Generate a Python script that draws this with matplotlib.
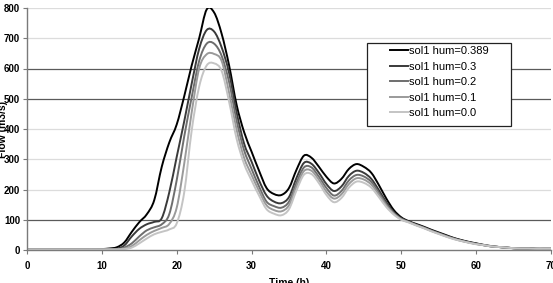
import matplotlib
matplotlib.use("Agg")
import matplotlib.pyplot as plt
import numpy as np
from matplotlib.patches import Rectangle, PathPatch
from matplotlib.path import Path
from matplotlib.lines import Line2D

plt.rcParams['font.family'] = ['Liberation Sans', 'DejaVu Sans']

# time in hours
hours = list(range(0, 71))

# flow (m3/s)
hum_0389 = [2]*10 + [3, 5, 9, 25, 60, 92, 118, 165, 275, 355,
                     415, 508, 610, 700, 795, 785, 715, 610, 480, 390,
                     325, 262, 205, 185, 182, 205, 265, 312, 305, 275,
                     242, 220, 235, 268, 284, 275, 255, 215, 170, 132,
                     108, 95, 86, 77, 67, 58, 49, 40, 33, 27,
                     22, 17, 13, 10, 8, 6, 5, 5, 4, 4, 4]
hum_03 = [2]*12 + [4, 15, 45, 70, 85, 93, 105, 190,
                   308, 425, 550, 665, 727, 722, 670, 585, 455, 352,
                   292, 230, 180, 160, 155, 175, 238, 288, 285, 255,
                   218, 195, 210, 245, 262, 255, 235, 198, 158, 125,
                   105, 94, 84, 75, 65, 56, 47, 39, 32, 26,
                   21, 16, 12, 10, 8, 6, 5, 5, 4, 4, 4]
hum_02 = [2]*13 + [8, 22, 45, 65, 75, 85, 118,
                   231, 375, 505, 625, 682, 682, 642, 555, 428, 330,
                   268, 210, 160, 145, 140, 160, 222, 273, 273, 242,
                   205, 180, 195, 230, 248, 243, 225, 190, 152, 122,
                   103, 93, 83, 74, 64, 55, 46, 38, 31, 25,
                   20, 16, 12, 10, 8, 6, 5, 5, 4, 4, 4]
hum_01 = [2]*13 + [5, 13, 32, 50, 63, 73, 86,
                   140, 285, 455, 600, 647, 648, 625, 520, 398, 305,
                   248, 195, 148, 132, 128, 148, 210, 261, 262, 232,
                   193, 170, 184, 218, 237, 233, 216, 183, 147, 120,
                   101, 92, 82, 73, 63, 54, 45, 37, 30, 25,
                   20, 16, 12, 10, 8, 6, 5, 5, 4, 4, 4]
hum_00 = [2]*13 + [3, 8, 22, 38, 52, 60, 68,
                   88, 190, 395, 540, 610, 617, 592, 490, 368, 285,
                   230, 180, 135, 120, 115, 135, 197, 249, 251, 221,
                   182, 158, 172, 206, 226, 222, 206, 175, 142, 117,
                   100, 91, 81, 72, 62, 53, 44, 36, 30, 24,
                   19, 16, 12, 10, 8, 6, 5, 5, 4, 4, 4]

labels = ["sol1 hum=0.389", "sol1 hum=0.3", "sol1 hum=0.2", "sol1 hum=0.1", "sol1 hum=0.0"]
series = [hum_0389, hum_03, hum_02, hum_01, hum_00]
colors = ["#000000", "#3a3a3a", "#6e6e6e", "#9a9a9a", "#c4c4c4"]


def smooth_path(x, y):
    # Excel-style smoothed line: bezier segments through the data points
    x = np.asarray(x, float)
    y = np.asarray(y, float)
    pts = np.column_stack([x, y])
    padded = np.vstack([pts[0], pts, pts[-1]])
    verts = [pts[0]]
    codes = [Path.MOVETO]
    for i in range(len(pts) - 1):
        p0, p1, p2, p3 = padded[i], padded[i+1], padded[i+2], padded[i+3]
        verts += [p1 + (p2 - p0) / 6, p2 - (p3 - p1) / 6, p2]
        codes += [Path.CURVE4] * 3
    return Path(verts, codes)


fig = plt.figure(figsize=(5.53, 2.83), dpi=100)
ax = fig.add_axes([27/553, 1-250/283, 524/553, 242/283])

# gridlines: some darker, as in the original
for y in range(100, 900, 100):
    if y in (100, 500, 600):
        ax.axhline(y, color="#5a5a5a", lw=0.9, zorder=1)
    else:
        ax.axhline(y, color="#dcdcdc", lw=0.9, zorder=1)

handles = []
for vals, lab, c in zip(series, labels, colors):
    ax.add_patch(PathPatch(smooth_path(hours, vals), facecolor="none",
                           edgecolor=c, lw=1.4, zorder=2))
    handles.append(Line2D([], [], color=c, lw=1.4, label=lab))

ax.set_xlim(0, 70)
ax.set_ylim(0, 800)
ax.set_xticks(range(0, 80, 10))
ax.set_yticks(range(0, 900, 100))
for s in ("top", "right"):
    ax.spines[s].set_visible(False)
for s in ("left", "bottom"):
    ax.spines[s].set_color("#7a7a7a")
    ax.spines[s].set_linewidth(1.0)
ax.tick_params(axis="x", direction="out", length=3, pad=5, color="#7a7a7a",
               labelsize=7)
ax.tick_params(axis="y", direction="out", length=3, pad=2, color="#7a7a7a",
               labelsize=7)
for t in ax.get_xticklabels() + ax.get_yticklabels():
    t.set_fontweight("bold")

ax.set_xlabel("Time (h)", fontsize=7.5, fontweight="bold")
ax.xaxis.set_label_coords(0.5, -0.115)
ax.set_ylabel("Flow (m3/s)", fontsize=7.5, fontweight="bold")
ax.yaxis.set_label_coords(-0.037, 0.5)

# legend box
ax.add_patch(Rectangle((0.649, 0.5124), 0.2748, 0.343, transform=ax.transAxes,
                       facecolor="white", edgecolor="#222222", lw=0.9, zorder=3))
ax.legend(handles=handles, loc="upper left", bbox_to_anchor=(0.6927, 0.842),
          frameon=False, fontsize=8, borderpad=0, borderaxespad=0,
          handlelength=1.6, handletextpad=0.15, labelspacing=0.49).set_zorder(4)

fig.savefig("out.png", dpi=100)
